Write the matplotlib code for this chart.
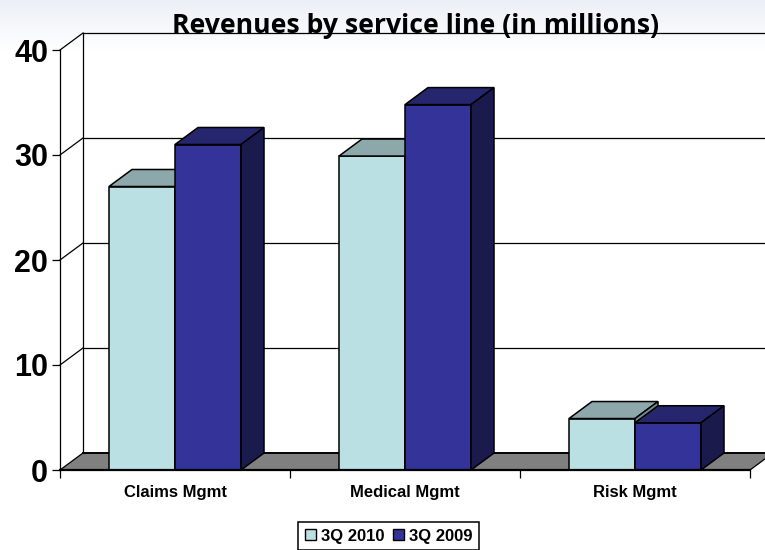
import matplotlib
matplotlib.use('Agg')
import matplotlib.pyplot as plt
from matplotlib.patches import Patch, Polygon
import numpy as np

categories = ['Claims Mgmt', 'Medical Mgmt', 'Risk Mgmt']
series2010 = [27, 29.9, 4.9]
series2009 = [31, 34.8, 4.5]
yTicks = [0, 10, 20, 30, 40]

# 3D look: how far the back wall sits behind the front plane
depthX = 0.1
depthY = 1.62
barWidth = 0.287

lightFront, lightTop, lightSide = '#BAE0E3', '#8CA8AA', '#758C8E'
darkFront, darkTop, darkSide = '#333399', '#26266F', '#1A1A4D'

fig = plt.figure(figsize=(7.65, 5.5), dpi=100)

# pale band behind the title, fades out to white
bg = fig.add_axes([0, 0, 1, 1], zorder=0)
fade = np.linspace(0, 1, 550)
fade = np.clip(fade / 0.09, 0, 1)
img = np.ones((550, 1, 3))
img[:, 0, 0] = 0.925 + (1 - 0.925) * fade
img[:, 0, 1] = 0.94 + (1 - 0.94) * fade
img[:, 0, 2] = 0.965 + (1 - 0.965) * fade
bg.imshow(img, aspect='auto')
bg.axis('off')

ax = fig.add_axes([60 / 765, 80 / 550, 705 / 765, 437 / 550], zorder=1)
ax.patch.set_alpha(0)
ax.set_xlim(0, 705 / 230)
ax.set_ylim(0, 437 / 10.5)

for s in ['top', 'right']:
    ax.spines[s].set_visible(False)
ax.spines['left'].set_bounds(0, 40)
ax.spines['bottom'].set_bounds(0, 3)
ax.spines['left'].set_linewidth(0.9)
ax.spines['bottom'].set_linewidth(1.6)

ax.set_yticks(yTicks)
ax.set_yticklabels([str(v) for v in yTicks], fontsize=22, fontweight='bold', family='Liberation Sans')
ax.tick_params(axis='y', length=5.5, width=0.9, pad=3)

ax.set_xticks([0, 1, 2, 3])
ax.set_xticklabels([])
ax.tick_params(axis='x', length=6, width=0.9)
ax.set_xticks([0.5, 1.5, 2.5], minor=True)
ax.set_xticklabels(categories, minor=True, fontsize=12, fontweight='bold', family='Liberation Sans')
ax.tick_params(axis='x', which='minor', length=0, pad=11)

# floor
floor = Polygon([(0, 0), (3, 0), (3 + depthX, depthY), (depthX, depthY)], closed=True,
                facecolor='#808080', edgecolor='none', clip_on=False, zorder=1)
ax.add_patch(floor)
ax.plot([depthX, 705 / 230], [depthY, depthY], color='black', lw=1.4, clip_on=False, zorder=1.5)
ax.plot([3, 3 + depthX], [0, depthY], color='black', lw=0.9, clip_on=False, zorder=1.5)

# back wall and left wall lines
ax.plot([depthX, depthX], [depthY, 40 + depthY], color='black', lw=0.9, clip_on=False, zorder=1)
for v in yTicks:
    ax.plot([0, depthX], [v, v + depthY], color='black', lw=0.9, clip_on=False, zorder=1)
    if v > 0:
        ax.plot([depthX, 705 / 230], [v + depthY, v + depthY], color='black', lw=0.9, clip_on=False, zorder=1)


def drawBar(left, value, front, top, side, z):
    ax.bar(left, value, barWidth, align='edge', color=front, edgecolor='black', linewidth=1.1, zorder=z, clip_on=False)
    right = left + barWidth
    ax.add_patch(Polygon([(left, value), (right, value), (right + depthX, value + depthY), (left + depthX, value + depthY)],
                         closed=True, facecolor=top, edgecolor='black', linewidth=1.1, zorder=z, clip_on=False))
    ax.add_patch(Polygon([(right, 0), (right + depthX, depthY), (right + depthX, value + depthY), (right, value)],
                         closed=True, facecolor=side, edgecolor='black', linewidth=1.1, zorder=z, clip_on=False))


for i in range(len(categories)):
    center = i + 0.5
    drawBar(center - barWidth, series2010[i], lightFront, lightTop, lightSide, 2 + i * 0.1)
    drawBar(center, series2009[i], darkFront, darkTop, darkSide, 2.05 + i * 0.1)

fig.text(416 / 765, 1 - 33 / 550, 'Revenues by service line (in millions)', ha='center', va='baseline',
         fontsize=19.2, fontweight='bold', family='Open Sans', zorder=3)

handles = [Patch(facecolor=lightFront, edgecolor='black', label='3Q 2010'),
           Patch(facecolor=darkFront, edgecolor='black', label='3Q 2009')]
leg = fig.legend(handles=handles, ncol=2, loc='center', bbox_to_anchor=(388.5 / 765, 1 - 536 / 550),
                 prop={'family': 'Liberation Sans', 'weight': 'bold', 'size': 12},
                 fancybox=False, framealpha=1, edgecolor='black', borderpad=0.4,
                 handlelength=0.65, handleheight=0.65, handletextpad=0.3, columnspacing=0.5)
leg.get_frame().set_linewidth(1.1)

fig.savefig('out.png', dpi=100)
